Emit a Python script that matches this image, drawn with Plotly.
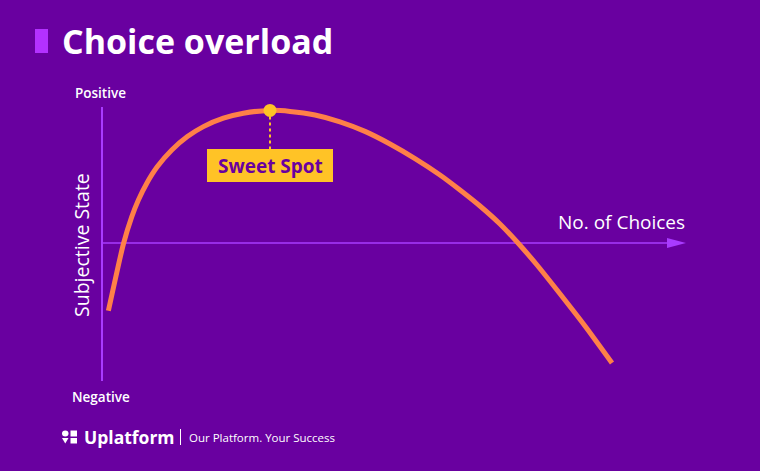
import plotly.graph_objects as go

# ---- data (x: number of choices, y: subjective state) ----
choices = [0.32, 1.07, 1.49, 1.82, 2.24, 2.77, 3.49, 4.27, 5.07, 6.07, 7.07, 8.4,
           9.4, 10.65, 11.9, 13.15, 14.4, 15.65, 16.9, 17.9, 18.9, 19.9, 20.8,
           21.75, 22.75, 24.15, 25.5]
state = [-3.39, -0.05, 1.32, 2.15, 2.99, 3.82, 4.65, 5.32, 5.82, 6.24, 6.49, 6.63,
         6.58, 6.4, 6.06, 5.58, 4.95, 4.22, 3.4, 2.65, 1.85, 0.95, 0.0,
         -1.1, -2.35, -4.15, -6.0]
sweet_x = [8.4]
sweet_y = [6.63]
sweet_label = "Sweet Spot"
title = "Choice overload"
x_label = "No. of Choices"
y_label = "Subjective State"
y_top = "Positive"
y_bottom = "Negative"
brand = "Uplatform"
tagline = "Our Platform. Your Success"

W, H = 760, 471
BG = "#6900A0"
AXIS = "#A93BFF"
CURVE = "#FF8048"
YELLOW = "#FFC326"
FONT = "Open Sans"

def px(x):
    return x / W
def py(y):
    return 1 - y / H

# data-space scale: 20 px per unit, origin at pixel (102, 243)
def dx(p):
    return (p - 102) / 20
def dy(p):
    return (243 - p) / 20

fig = go.Figure()

fig.add_trace(go.Scatter(
    x=choices, y=state, mode="lines",
    line=dict(color=CURVE, width=5, shape="spline", smoothing=0.6),
    hoverinfo="skip", showlegend=False,
))

fig.add_trace(go.Scatter(
    x=sweet_x, y=sweet_y, mode="markers",
    marker=dict(color=YELLOW, size=13),
    hoverinfo="skip", showlegend=False,
))

shapes = [
    # vertical axis
    dict(type="line", xref="x", yref="y", x0=0, x1=0, y0=dy(107), y1=dy(381),
         line=dict(color=AXIS, width=2), layer="below"),
    # horizontal axis + arrowhead
    dict(type="line", xref="x", yref="y", x0=0, x1=dx(668), y0=0, y1=0,
         line=dict(color=AXIS, width=1.5), layer="below"),
    dict(type="path", xref="x", yref="y",
         path=f"M {dx(667)} {dy(238)} L {dx(686)} {dy(243)} L {dx(667)} {dy(248)} Z",
         fillcolor=AXIS, line=dict(width=0), layer="below"),
    # dotted guide from sweet spot to label
    dict(type="line", xref="x", yref="y",
         x0=sweet_x[0], x1=sweet_x[0], y0=sweet_y[0], y1=dy(149),
         line=dict(color=YELLOW, width=2, dash="dot"), layer="below"),
    # label box
    dict(type="rect", xref="paper", yref="paper",
         x0=px(207), x1=px(333), y0=py(182), y1=py(149),
         fillcolor=YELLOW, line=dict(width=0), layer="above"),
    # title bar
    dict(type="rect", xref="paper", yref="paper",
         x0=px(35), x1=px(48), y0=py(53), y1=py(29),
         fillcolor="#B331FF", line=dict(width=0), layer="above"),
    # logo icon 2x2
    dict(type="circle", xref="paper", yref="paper",
         x0=px(62), x1=px(68.5), y0=py(436.5), y1=py(430.5),
         fillcolor="white", line=dict(width=0), layer="above"),
    dict(type="rect", xref="paper", yref="paper",
         x0=px(70.5), x1=px(77), y0=py(436.5), y1=py(430.5),
         fillcolor="white", line=dict(width=0), layer="above"),
    dict(type="path", xref="paper", yref="paper",
         path=f"M {px(62)} {py(438)} L {px(68.5)} {py(438)} L {px(65.25)} {py(443.5)} Z",
         fillcolor="white", line=dict(width=0), layer="above"),
    dict(type="rect", xref="paper", yref="paper",
         x0=px(70.5), x1=px(77), y0=py(443.5), y1=py(438),
         fillcolor="white", line=dict(width=0), layer="above"),
    # separator
    dict(type="line", xref="paper", yref="paper",
         x0=px(180.5), x1=px(180.5), y0=py(429), y1=py(445),
         line=dict(color="white", width=1), layer="above"),
]

annotations = [
    dict(text=f"<b>{title}</b>", x=px(60), y=py(41), xanchor="left", yanchor="middle",
         font=dict(family=FONT, size=34, color="white")),
    dict(text=y_top, x=px(100), y=py(93), xanchor="center", yanchor="middle",
         font=dict(family=FONT, size=13.5, color="white", weight=600)),
    dict(text=y_bottom, x=px(101), y=py(397), xanchor="center", yanchor="middle",
         font=dict(family=FONT, size=13.5, color="white", weight=600)),
    dict(text=y_label, x=px(81), y=py(245), xanchor="center", yanchor="middle", textangle=-90,
         font=dict(family=FONT, size=19.5, color="white", weight=500)),
    dict(text=x_label, x=px(621), y=py(222), xanchor="center", yanchor="middle",
         font=dict(family=FONT, size=19, color="white", weight=500)),
    dict(text=f"<b>{sweet_label}</b>", x=px(270), y=py(165.5), xanchor="center", yanchor="middle",
         font=dict(family=FONT, size=19, color=BG)),
    dict(text=f"<b>{brand}</b>", x=px(82), y=py(437), xanchor="left", yanchor="middle",
         font=dict(family=FONT, size=17.5, color="white")),
    dict(text=tagline, x=px(187), y=py(437), xanchor="left", yanchor="middle",
         font=dict(family=FONT, size=11.5, color="white")),
]
for a in annotations:
    a.update(xref="paper", yref="paper", showarrow=False)

fig.update_layout(
    width=W, height=H,
    margin=dict(l=0, r=0, t=0, b=0),
    paper_bgcolor=BG, plot_bgcolor="rgba(0,0,0,0)",
    xaxis=dict(range=[dx(0), dx(W)], visible=False, fixedrange=True),
    yaxis=dict(range=[dy(H), dy(0)], visible=False, fixedrange=True),
    shapes=shapes, annotations=annotations,
    showlegend=False,
)

fig.write_html("out.html", config={"displayModeBar": False},
               post_script="document.body.style.margin='0';document.body.style.background='" + BG + "';")
